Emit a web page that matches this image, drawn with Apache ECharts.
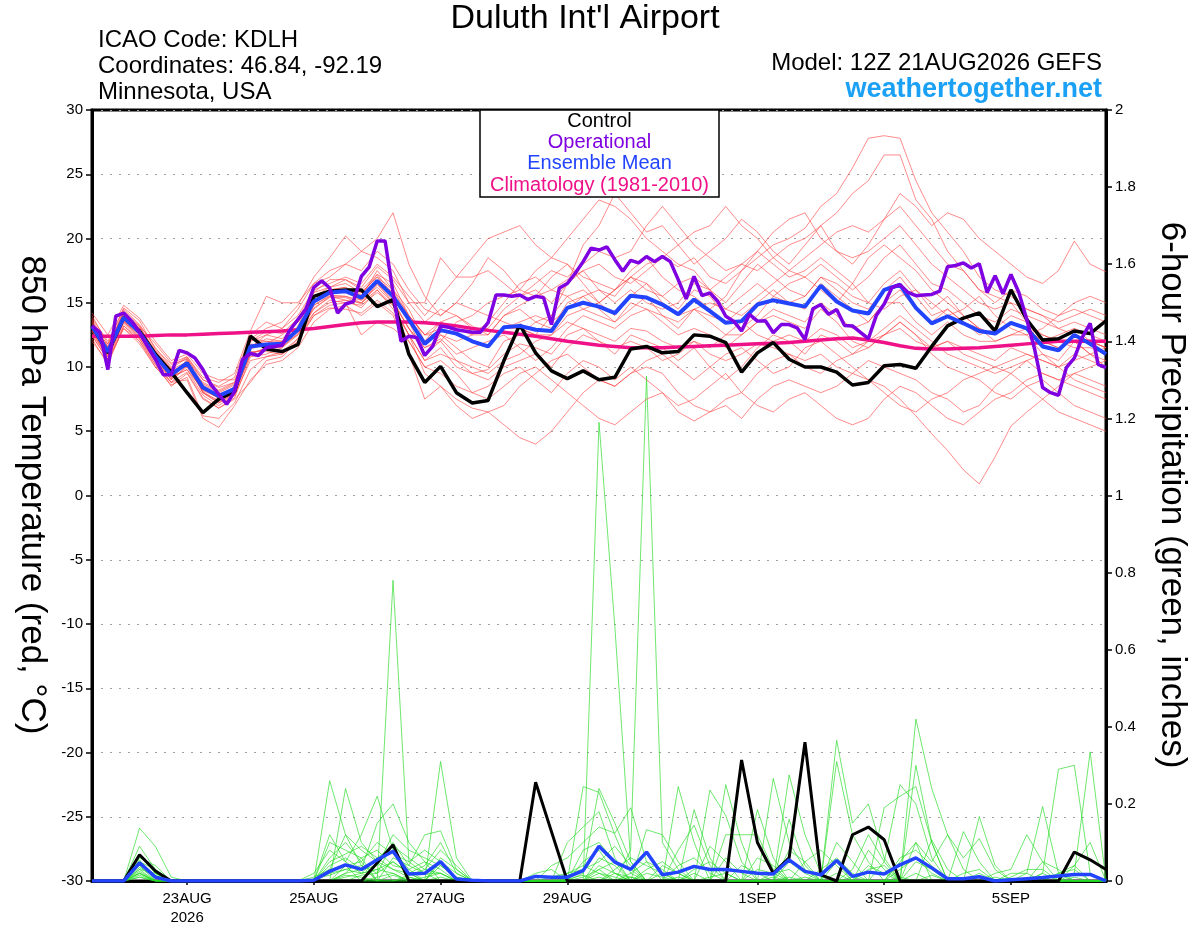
<!DOCTYPE html>
<html><head><meta charset="utf-8">
<script src="https://cdn.jsdelivr.net/npm/echarts@6/dist/echarts.min.js"></script>
<style>html,body{margin:0;padding:0;background:#fff}#c{width:1200px;height:927px}</style>
</head><body><div id="c"></div>
<script>
// ---- axis ticks ----
const tickHours = [36,84,132,180,252,300,348];
const tickLabels = ['23AUG\n2026','25AUG','27AUG','29AUG','1SEP','3SEP','5SEP'];

// ---- 850 hPa temperature (6-hourly, from 12Z 21AUG) ----
const control = [13.2,11.1,13.85,12.8,11.0,9.6,8.0,6.45,7.5,8.1,12.4,11.4,11.2,
11.75,15.5,15.9,16.0,16.0,14.7,15.25,11.0,8.8,10.05,8.0,7.2,7.4,
10.5,13.3,11.1,9.7,9.1,9.7,9.0,9.2,11.4,11.6,11.1,11.2,12.5,
12.4,11.9,9.6,11.1,11.9,10.6,10.0,10.0,9.6,8.6,8.8,10.1,10.2,
9.9,11.6,13.2,13.8,14.2,12.8,16.0,13.7,12.1,12.2,12.8,12.6,13.6];
const ensembleMean = [13.2,11.2,13.85,12.7,10.85,9.4,10.3,8.4,7.75,8.3,11.6,11.75,11.8,
12.9,15.1,15.8,15.9,15.4,16.7,15.5,13.7,11.8,12.87,12.6,12.0,11.6,
13.1,13.2,12.9,12.8,14.6,15.0,14.7,14.2,15.55,15.4,14.86,14.1,15.25,
14.35,13.44,13.57,14.86,15.2,14.94,14.7,16.33,15.1,14.4,14.16,16.0,16.4,
14.6,13.4,13.95,13.4,12.8,12.6,13.44,13.0,11.6,11.3,12.5,11.8,11.0];
const climatology = [12.4,12.4,12.4,12.4,12.45,12.5,12.5,12.55,12.6,12.65,12.7,12.75,12.8,
12.9,13.0,13.15,13.3,13.45,13.5,13.5,13.5,13.45,13.35,13.2,13.0,12.85,
12.7,12.55,12.4,12.2,12.0,11.85,11.7,11.6,11.5,11.5,11.5,11.55,11.6,
11.65,11.7,11.75,11.8,11.85,11.9,12.0,12.1,12.2,12.25,12.1,11.9,11.65,
11.45,11.4,11.4,11.45,11.5,11.6,11.7,11.8,11.9,12.0,12.0,12.0,12.0];
// operational is 3-hourly
const operational = [13.2,12.7,9.8,13.95,14.2,13.57,12.7,11.6,10.6,9.4,
9.4,11.3,11.1,10.7,9.8,8.65,7.87,7.1,8.1,10.6,
11.05,10.9,11.5,11.6,11.7,12.9,13.7,14.5,16.2,16.7,
16.15,14.2,14.9,15.1,17.05,17.8,19.8,19.8,15.8,12.0,
12.4,12.3,10.9,11.6,13.2,13.1,12.9,12.8,12.7,12.7,
13.45,15.6,15.6,15.5,15.6,15.25,15.5,15.4,13.3,16.15,
16.5,17.3,18.2,19.25,19.1,19.35,18.35,17.45,18.3,18.1,
18.6,18.2,18.6,18.2,16.8,15.3,17.05,15.55,15.77,15.1,
13.95,13.57,12.8,14.1,13.57,13.6,12.66,13.3,13.3,13.05,
12.14,14.53,14.86,14.1,14.47,13.23,13.2,12.7,12.2,14.0,
14.9,16.2,16.4,15.8,15.55,15.6,15.65,15.9,17.8,17.9,
18.1,17.7,18.04,15.8,17.1,15.7,17.2,15.8,13.7,11.36,
8.4,8.0,7.8,9.95,10.7,12.3,13.4,10.2,9.95];

// ensemble members, temperature
const t01 = [13.5,11.5,14.2,13.0,11.2,9.8,10.0,8.8,8.2,8.8,12.0,12.5,12.2, 13.5,15.5,16.2,16.8,16.0,17.2,16.5,14.0,12.5,13.5,14.0,13.2,12.5, 14.0,14.8,15.5,16.0,16.8,17.5,18.0,17.0,16.5,17.5,18.5,17.8,18.5, 17.0,16.5,17.5,18.5,19.5,20.0,20.8,22.5,23.5,25.5,27.8,28.0,27.8, 24.5,22.0,20.5,19.0,17.0,16.0,15.5,14.5,14.0,13.0,12.5,12.0,11.5];
const t02 = [12.8,10.8,13.5,12.5,10.5,9.0,10.5,8.0,7.2,8.0,11.0,11.5,11.8, 12.5,14.5,15.5,15.5,15.0,16.5,15.0,13.0,11.5,12.0,13.5,14.0,15.0, 15.5,16.0,17.5,18.5,18.0,17.0,16.5,16.0,17.0,16.0,15.5,16.5,17.0, 16.0,17.0,18.0,17.5,18.5,19.5,20.0,21.0,22.0,23.5,24.5,26.5,26.5, 23.0,21.5,19.0,17.5,16.0,15.5,15.0,13.5,12.5,12.0,11.5,11.5,11.0];
const t03 = [13.0,11.0,13.6,12.4,10.6,9.2,9.8,7.8,7.0,7.8,11.2,11.2,11.0, 12.0,14.8,15.5,15.2,15.0,16.0,14.8,12.5,10.5,11.5,10.0,9.5,9.8, 11.0,11.8,11.5,11.0,12.5,13.0,12.5,12.0,13.0,12.8,12.0,11.5,12.0, 11.0,10.5,11.0,11.8,11.5,11.0,10.5,11.0,10.0,9.5,9.0,8.5,7.5, 6.2,4.8,3.5,2.0,0.9,3.0,5.4,6.5,7.5,8.5,9.5,10.0,10.5];
const t04 = [12.5,10.5,13.0,12.0,10.0,8.8,9.0,6.0,5.3,7.0,9.0,10.2,10.5, 11.5,13.5,14.5,14.8,14.0,15.0,14.0,11.0,7.5,8.5,7.5,6.8,6.5, 5.5,4.5,4.0,5.0,6.5,8.0,9.0,8.5,9.5,10.0,9.5,8.0,7.0, 6.5,7.5,8.0,9.5,10.5,11.0,10.0,9.5,10.5,11.0,12.0,12.5,13.0, 12.0,11.5,12.0,11.0,10.5,10.0,9.5,8.5,7.5,6.5,6.0,5.5,5.0];
const t05 = [13.8,12.0,14.5,13.3,11.5,10.0,10.8,9.0,8.5,9.2,12.5,13.5,13.0, 14.0,16.0,16.5,17.0,16.5,18.0,17.0,15.5,14.0,15.5,17.0,18.5,20.0, 20.5,21.0,19.5,18.5,20.0,21.5,23.0,22.5,21.5,20.0,19.0,18.0,17.5, 16.0,15.0,16.5,18.0,17.0,16.0,15.5,17.0,16.0,15.0,14.5,16.0,17.0, 15.5,14.0,14.5,13.5,13.0,12.5,13.5,13.0,12.0,11.5,12.0,11.0,10.5];
const t06 = [13.0,11.8,14.0,13.2,11.8,10.3,10.8,9.2,8.8,9.5,12.8,15.5,15.0, 15.0,16.5,17.5,18.0,17.5,19.0,18.0,16.0,14.5,14.0,15.0,14.5,14.0, 13.5,13.0,12.5,14.0,16.5,19.5,21.0,23.5,22.0,20.5,21.0,19.5,18.0, 19.0,20.0,21.5,20.5,19.0,18.0,19.5,21.0,19.0,18.0,19.5,21.5,22.5, 21.0,19.5,18.0,17.5,16.0,15.0,16.0,15.5,14.5,14.0,15.0,15.5,15.0];
const t07 = [14.2,12.5,14.8,13.8,12.0,10.5,11.0,9.5,9.0,9.0,11.5,12.5,13.0, 14.5,16.5,17.0,18.0,19.0,20.0,22.0,18.0,15.5,14.0,15.0,16.5,18.5, 17.5,16.0,15.5,17.0,18.0,16.5,15.0,16.0,17.5,18.5,17.0,16.0,15.5, 14.5,15.5,17.5,19.0,18.0,17.0,17.5,18.5,17.5,16.5,15.0,14.5,15.5, 16.0,15.0,14.0,14.5,15.5,14.0,13.0,12.5,13.0,14.0,14.5,14.0,13.5];
const t08 = [12.2,10.2,13.2,12.0,10.2,8.5,9.5,7.5,6.8,7.5,8.8,10.5,10.8, 12.0,14.0,14.8,15.0,12.5,13.5,13.0,12.0,10.0,9.5,8.5,8.0,7.5, 8.5,9.5,10.0,9.0,8.0,7.0,6.0,5.5,6.5,7.5,8.0,6.5,5.8, 6.5,7.0,6.0,7.5,8.5,9.0,8.5,8.0,8.5,9.5,10.5,10.0,9.5, 9.0,8.0,7.5,6.5,7.0,8.5,9.5,10.5,11.0,10.0,9.0,8.5,8.0];
const t09 = [13.3,11.0,14.0,12.8,10.8,9.0,10.6,8.5,7.5,8.2,11.8,11.5,12.0, 13.0,15.5,16.0,16.0,15.8,17.0,15.5,13.5,11.0,12.5,11.5,10.5,10.0, 12.0,12.5,13.5,14.0,15.5,16.0,15.0,14.0,15.5,16.5,15.5,14.5,16.0, 15.5,14.0,13.0,14.0,15.5,16.5,17.0,16.0,15.0,16.5,18.5,19.5,18.5, 17.5,16.0,15.0,14.0,13.0,12.0,12.5,13.0,12.0,11.5,12.5,12.0,11.5];
const t10 = [12.6,10.8,13.4,12.2,10.4,8.8,9.6,7.6,6.8,7.6,10.8,11.0,11.5, 12.5,14.2,15.0,15.2,14.6,16.0,14.5,12.5,10.5,11.0,10.5,9.5,9.0, 10.0,10.5,11.0,10.0,11.5,12.5,12.0,11.0,12.5,12.0,11.5,10.5,11.5, 10.0,9.0,10.0,11.5,12.5,12.0,11.0,12.5,12.0,11.0,11.5,12.5,13.5, 12.5,11.0,10.0,9.5,9.0,8.0,7.5,8.5,9.0,8.0,7.0,6.5,6.0];
const t11 = [13.6,11.4,14.4,13.2,11.0,9.6,10.4,8.2,7.6,8.5,12.2,12.0,12.0, 13.0,15.0,16.0,16.2,15.5,17.5,16.0,14.5,12.0,13.5,13.0,12.5,12.5, 14.0,14.5,13.5,13.0,15.0,15.5,16.0,15.0,16.0,15.0,14.5,15.0,16.5, 16.0,14.5,14.0,15.0,16.0,15.0,14.5,16.5,15.5,14.5,13.5,15.0,16.0, 14.5,13.5,14.5,13.5,12.5,13.0,14.0,13.5,12.0,12.5,13.0,12.0,11.5];
const t12 = [13.0,11.6,13.8,12.6,11.0,9.5,10.2,8.6,8.0,8.6,11.4,11.8,12.5, 13.5,15.2,16.0,15.8,15.2,16.8,15.8,14.0,12.5,13.0,12.5,12.0,11.5, 13.0,13.5,14.0,13.5,14.5,15.5,14.5,13.5,15.0,14.5,14.0,13.5,14.5, 14.0,13.5,14.5,15.5,16.5,17.5,18.5,19.5,20.5,21.0,20.5,21.5,23.5, 22.5,21.0,22.0,21.5,20.0,19.0,18.0,17.0,16.5,17.5,19.8,18.0,17.4];
const t13 = [12.4,10.6,13.6,12.6,10.8,9.2,9.8,8.2,7.6,8.0,11.0,11.5,11.5, 12.8,14.8,15.6,15.5,15.2,16.2,15.0,13.0,11.5,12.2,11.0,11.5,12.0, 12.5,11.5,10.5,11.5,13.0,14.0,13.5,13.0,14.0,14.5,13.5,12.5,13.0, 12.5,11.5,12.5,13.5,14.0,13.5,13.0,14.5,13.5,12.0,11.5,12.5,13.5, 12.5,11.5,12.0,11.5,11.0,10.5,11.5,11.0,10.5,10.0,11.0,10.5,10.0];
const t14 = [14.0,11.8,14.6,13.6,11.4,10.2,10.6,9.0,8.4,8.8,12.2,13.0,13.5, 14.8,17.0,18.5,20.2,19.0,18.5,17.5,15.0,15.0,18.5,17.0,17.0,17.5, 16.5,15.5,16.5,17.5,17.0,18.0,19.0,18.5,19.0,21.0,22.5,21.0,19.5, 18.5,17.5,18.0,19.0,20.5,21.5,22.0,20.0,19.0,18.5,19.0,20.0,21.0, 19.5,18.0,17.0,16.0,15.0,14.5,15.0,14.5,14.0,13.5,14.0,14.5,14.0];
const t15 = [12.0,10.4,13.0,11.8,10.0,8.6,9.2,6.2,6.0,7.2,9.8,10.8,11.0, 12.2,14.0,14.6,14.5,14.2,15.2,14.2,12.0,10.0,10.5,9.5,8.0,8.5, 9.5,10.0,9.0,8.0,9.5,10.5,10.0,9.0,10.0,9.0,8.0,7.0,7.5, 8.5,9.5,8.0,7.0,6.5,7.5,8.0,7.0,6.0,5.5,6.0,7.5,8.5, 8.0,7.0,6.0,5.5,6.5,7.5,8.0,9.0,9.5,9.0,8.5,8.0,7.5];
const t16 = [13.4,11.2,13.8,13.0,11.2,9.8,10.4,8.0,7.4,8.0,11.5,12.2,12.0, 13.2,15.8,16.2,16.5,15.8,17.0,16.0,14.0,12.5,12.5,12.0,12.5,13.5, 15.0,16.5,17.0,16.0,15.5,14.5,15.0,16.0,17.0,16.5,15.0,14.0,14.5, 15.0,14.5,15.5,16.5,15.5,15.0,15.5,17.0,16.5,15.5,15.0,16.5,17.5, 16.0,14.5,15.5,14.0,13.0,12.5,13.5,13.0,12.5,12.0,13.0,12.5,12.0];
const t17 = [12.8,10.6,13.2,12.2,10.2,8.8,10.2,8.0,7.2,7.8,10.5,10.8,11.2, 12.2,14.2,15.2,15.0,14.8,15.8,14.8,12.5,9.5,8.5,7.0,6.0,6.5, 7.0,8.5,9.5,10.5,11.0,10.0,9.0,8.5,9.5,10.5,11.0,10.0,9.0, 10.0,11.0,11.5,10.5,9.5,10.0,11.5,12.0,11.0,10.0,9.0,8.0,7.0, 6.5,7.5,8.0,9.0,9.5,10.0,10.5,11.0,10.5,10.0,10.5,11.0,11.5];
const t18 = [13.1,11.3,14.1,12.9,10.9,9.3,10.3,8.3,7.7,8.3,11.7,12.0,11.8, 13.0,15.2,16.0,16.2,15.6,17.2,15.6,13.5,12.0,13.0,12.5,12.0,11.5, 13.0,13.0,12.5,12.5,14.0,14.5,14.0,13.5,14.5,15.5,14.0,13.0,14.5, 13.5,12.5,12.5,13.5,14.5,14.0,13.5,15.0,14.0,13.0,13.5,15.0,15.0, 13.5,12.5,13.5,12.5,12.0,12.0,12.5,12.5,11.0,10.5,12.0,11.0,10.0];
const t19 = [13.7,11.6,14.3,13.1,11.3,9.9,10.7,8.7,8.1,8.7,12.0,12.8,12.6, 13.8,15.8,16.8,16.8,16.2,17.8,16.8,15.0,13.5,14.5,14.0,13.0,13.0, 14.5,15.5,16.0,15.0,16.5,17.5,16.0,15.5,17.0,18.0,18.5,19.5,20.5, 21.0,22.5,21.0,20.0,18.5,17.5,17.0,18.0,17.0,16.0,17.0,18.5,19.5, 18.0,16.5,16.0,15.0,14.0,13.5,14.5,14.0,13.5,13.0,13.5,13.0,12.5];
const t20 = [12.9,10.9,13.5,12.3,10.5,9.1,10.0,8.1,7.3,7.9,11.1,11.4,11.6, 12.6,14.6,15.4,15.4,14.9,16.4,15.2,13.0,11.0,12.0,10.5,10.0,9.5, 10.5,11.0,12.0,12.5,13.5,13.0,12.0,11.5,12.0,11.5,10.5,11.0,12.0, 11.5,12.5,13.5,12.5,12.0,12.5,12.0,13.0,12.5,11.5,12.0,13.0,14.0, 13.0,12.0,11.0,10.5,10.0,9.5,10.0,10.5,9.5,9.0,9.5,9.0,8.5];
const tempMembers = [t01,t02,t03,t04,t05,t06,t07,t08,t09,t10,t11,t12,t13,t14,t15,t16,t17,t18,t19,t20];

// ---- 6-hour precipitation (inches) ----
const controlPrecip = [0,0,0,0.068,0.026,0,0,0,0,0,0,0,0, 0,0,0,0,0,0.047,0.094,0,0,0,0,0,0, 0,0,0.256,0.128,0,0,0,0,0,0,0,0,0, 0,0,0.314,0.10,0.02,0.06,0.36,0.016,0,0.12,0.14,0.107,0, 0,0,0,0,0,0,0,0,0,0,0.075,0.055,0.03];
const meanPrecip = [0,0,0,0.047,0.01,0,0,0,0,0,0,0,0, 0,0.002,0.025,0.042,0.03,0.055,0.077,0.018,0.02,0.05,0.005,0.002,0, 0,0,0.012,0.01,0.01,0.027,0.09,0.049,0.03,0.075,0.016,0.023,0.038, 0.03,0.03,0.025,0.02,0.018,0.055,0.025,0.016,0.053,0.012,0.023,0.018,0.042, 0.06,0.034,0.006,0.006,0.011,0,0.003,0.006,0.009,0.013,0.017,0.017,0];
const p01 = [0,0,0,0.137,0.09,0.01,0,0,0,0,0,0,0, 0,0,0.06,0.1,0.05,0,0.78,0.05,0.02,0,0,0,0, 0,0,0,0,0,0.02,0.24,0.15,0.05,0,0,0,0, 0,0.25,0.1,0,0,0,0,0,0.05,0,0,0,0, 0.42,0.24,0.12,0.03,0,0,0,0,0,0,0.04,0,0];
const p02 = [0,0,0,0.09,0.03,0,0,0,0,0,0,0,0, 0,0,0.26,0.12,0.04,0,0,0,0,0.05,0.02,0,0, 0,0,0,0,0,0,1.19,0.66,0.05,0,0.02,0,0, 0,0,0,0,0.266,0.1,0.03,0,0,0,0,0,0.05, 0.1,0,0,0,0,0,0,0,0.02,0,0,0,0];
const p03 = [0,0,0,0.07,0.02,0,0,0,0,0,0,0,0, 0,0,0,0.24,0.1,0.05,0,0,0,0.31,0.06,0,0, 0,0,0,0,0,0,0,0,0.08,1.31,0.1,0.03,0, 0,0,0,0,0,0.275,0.12,0.02,0,0,0,0.05,0.25, 0.2,0.06,0,0,0,0,0,0,0,0.02,0.04,0.1,0];
const p04 = [0,0,0,0.05,0.01,0,0,0,0,0,0,0,0, 0,0.02,0.08,0.05,0.12,0.22,0.08,0.03,0,0,0,0,0, 0,0,0,0,0,0.245,0.23,0.12,0.02,0,0,0,0, 0.236,0.17,0.05,0,0,0,0,0,0.365,0.15,0.2,0.06,0, 0,0,0,0,0,0.02,0.03,0.12,0.05,0,0,0,0];
const p05 = [0,0,0,0.04,0,0,0,0,0,0,0,0,0, 0,0,0.04,0.06,0.03,0.15,0.2,0.1,0.05,0,0,0,0, 0,0,0,0,0.1,0.14,0.18,0.06,0,0,0,0.245,0.1, 0,0,0,0.185,0.06,0,0,0,0.31,0.12,0.05,0,0, 0.3,0.1,0,0,0.167,0.04,0,0,0,0,0.02,0.335,0];
const p06 = [0,0,0,0.03,0.02,0,0,0,0,0,0,0,0, 0,0,0.1,0.08,0.06,0,0.06,0.04,0.12,0.13,0.03,0,0, 0,0,0,0.04,0.06,0.1,0.14,0.124,0.19,0.05,0,0,0.185, 0.06,0,0,0,0,0.08,0.05,0,0,0,0,0.19,0.22, 0.245,0.1,0,0.128,0.05,0,0,0,0.02,0.29,0.30,0.02,0];
const p07 = [0,0,0,0.025,0,0,0,0,0,0,0,0,0, 0,0.01,0.03,0.12,0.08,0.05,0.03,0.02,0.04,0.1,0.02,0,0, 0,0,0,0,0,0,0.06,0.04,0,0.133,0.12,0.05,0, 0,0.12,0.12,0.12,0.03,0,0,0,0,0,0.08,0.03,0, 0,0.107,0.03,0,0,0,0,0.02,0.193,0.02,0,0,0];
const p08 = [0,0,0,0.06,0.04,0,0,0,0,0,0,0,0, 0,0,0,0.04,0.05,0.1,0.07,0.05,0.08,0.05,0,0,0, 0,0,0.02,0.03,0,0.05,0.08,0.02,0,0,0,0.08,0.145, 0.04,0,0,0,0,0,0.05,0.08,0.04,0,0,0,0, 0.1,0.05,0.12,0.06,0.11,0.03,0,0,0,0,0,0,0];
const p09 = [0,0,0,0.02,0,0,0,0,0,0,0,0,0, 0,0,0.05,0.07,0.09,0.06,0.09,0.06,0.03,0.08,0.04,0,0, 0,0,0,0,0.02,0.03,0.05,0.09,0.04,0,0,0,0.03, 0.05,0.02,0,0,0,0.16,0.04,0,0,0.03,0.12,0.05,0, 0,0,0,0,0,0,0.01,0.03,0.03,0,0,0,0];
const p10 = [0,0,0,0.015,0,0,0,0,0,0,0,0,0, 0,0,0,0.02,0.03,0.04,0.12,0.08,0.06,0.04,0.01,0,0, 0,0,0,0,0,0,0,0.03,0.06,0.04,0.02,0,0, 0.09,0.05,0,0.06,0.04,0,0,0,0.1,0.05,0,0,0.06, 0.08,0.04,0,0,0,0.01,0,0,0,0.02,0.03,0,0];
const p11 = [0,0,0,0.035,0.01,0,0,0,0,0,0,0,0, 0,0,0.12,0.05,0.02,0.03,0.05,0.02,0,0.06,0.03,0,0, 0,0,0,0,0,0.08,0.1,0.05,0,0,0.04,0.02,0, 0,0,0.04,0.02,0,0.05,0.02,0,0,0,0.04,0.02,0, 0,0,0,0.02,0.03,0,0,0,0,0,0,0,0];
const p12 = [0,0,0,0.05,0.03,0,0,0,0,0,0,0,0, 0,0,0,0.02,0.06,0.08,0.04,0.03,0.05,0.03,0,0,0, 0,0,0,0,0,0,0.03,0.05,0.03,0,0,0.04,0.06, 0.02,0,0,0,0,0,0,0.03,0.06,0.02,0,0,0, 0.05,0.03,0,0,0,0,0,0,0.05,0.03,0,0,0];
const p13 = [0,0,0,0.02,0,0,0,0,0,0,0,0,0, 0,0,0.02,0.03,0.04,0.02,0.1,0.04,0.02,0.02,0,0,0, 0,0,0,0.01,0.02,0.04,0.02,0,0.02,0.05,0.03,0,0, 0,0.06,0.02,0,0.02,0.03,0,0,0,0,0,0,0.03, 0.06,0.02,0,0,0,0,0,0,0,0,0,0,0];
const p14 = [0,0,0,0.03,0,0,0,0,0,0,0,0,0, 0,0.005,0.015,0.03,0.02,0.06,0.03,0.01,0,0.04,0.01,0,0, 0,0,0,0,0,0,0.04,0.02,0,0.03,0.05,0.02,0, 0,0,0,0.03,0.02,0,0,0,0,0,0.03,0.04,0, 0,0,0,0,0,0,0.02,0.02,0,0,0,0,0];
const p15 = [0,0,0,0.01,0,0,0,0,0,0,0,0,0, 0,0,0,0.01,0.02,0.03,0.02,0,0.01,0.02,0,0,0, 0,0,0,0,0,0,0.02,0.01,0,0,0,0,0.02, 0,0,0,0,0,0.01,0,0,0,0,0,0,0, 0.02,0,0,0,0,0,0,0,0,0,0,0,0];
const p16 = [0,0,0,0.045,0.015,0,0,0,0,0,0,0,0, 0,0,0,0,0.015,0.02,0.05,0.02,0,0,0,0,0, 0,0,0,0,0,0.01,0.03,0,0,0.02,0.01,0,0, 0,0,0,0,0,0,0,0,0.02,0,0,0,0, 0,0,0,0,0.02,0,0,0,0,0,0,0,0];
const p17 = [0,0,0,0.055,0,0,0,0,0,0,0,0,0, 0,0,0.03,0.04,0,0,0,0.015,0.03,0.02,0,0,0, 0,0,0,0,0,0,0,0.02,0.01,0,0,0,0, 0.01,0.02,0,0,0,0,0,0,0,0.01,0,0,0, 0,0.015,0,0,0,0,0,0,0,0,0,0,0];
const p18 = [0,0,0,0.02,0,0,0,0,0,0,0,0,0, 0,0,0,0,0,0.01,0.02,0,0,0.01,0,0,0, 0,0,0,0,0.005,0.015,0,0,0,0,0,0.01,0, 0,0,0,0,0.01,0,0,0,0,0,0,0,0.01, 0,0,0,0,0,0,0,0,0,0,0,0,0];
const p19 = [0,0,0,0.065,0.02,0,0,0,0,0,0,0,0, 0,0,0,0.015,0.01,0,0.015,0,0,0,0,0,0, 0,0,0,0,0,0,0.01,0,0,0,0,0,0, 0,0,0,0,0,0,0.01,0,0,0,0,0,0, 0,0,0,0,0,0,0,0,0,0,0,0,0];
const p20 = [0,0,0,0.01,0,0,0,0,0,0,0,0,0, 0,0,0,0,0,0,0,0.01,0,0,0,0,0, 0,0,0,0,0,0,0,0,0.01,0,0,0,0, 0,0,0,0,0,0,0,0,0,0,0,0,0, 0,0,0,0,0,0,0,0,0,0,0.01,0,0];
const precipMembers = [p01,p02,p03,p04,p05,p06,p07,p08,p09,p10,p11,p12,p13,p14,p15,p16,p17,p18,p19,p20];

// ---- build ----
const six = a => a.map((v,i) => [i*6, v]);
const three = a => a.map((v,i) => [i*3, v]);
const FONT = 'Liberation Sans, Arial, Helvetica, sans-serif';
const C_RED = 'rgba(255,60,60,0.75)', C_GREEN = 'rgba(40,220,40,0.85)';
const C_PURPLE = '#7f00e0', C_BLUE = '#2244ff', C_PINK = '#ee1188';

const series = [];
precipMembers.forEach(p => series.push({type:'line', yAxisIndex:1, data:six(p), symbol:'none', silent:true, z:1,
  lineStyle:{color:C_GREEN, width:0.8}}));
tempMembers.forEach(t => series.push({type:'line', yAxisIndex:0, data:six(t), symbol:'none', silent:true, z:2,
  lineStyle:{color:C_RED, width:0.8}}));
series.push({type:'line', yAxisIndex:1, data:six(controlPrecip), symbol:'none', z:5, lineStyle:{color:'#000', width:3}});
series.push({type:'line', yAxisIndex:1, data:six(meanPrecip), symbol:'none', z:6, lineStyle:{color:C_BLUE, width:3.5}});
series.push({type:'line', yAxisIndex:0, data:six(climatology), symbol:'none', z:5, lineStyle:{color:C_PINK, width:3.5}});
series.push({type:'line', yAxisIndex:0, data:six(control), symbol:'none', z:6, lineStyle:{color:'#000', width:3.5}});
series.push({type:'line', yAxisIndex:0, data:six(ensembleMean), symbol:'none', z:7, lineStyle:{color:C_BLUE, width:4}});
series.push({type:'line', yAxisIndex:0, data:three(operational), symbol:'none', z:8, lineStyle:{color:C_PURPLE, width:3.5}});

const txt = (text, x, y, size, fill, align, extra) => Object.assign({type:'text', x, y, z:100,
  style:{text, font: size + 'px ' + FONT, fill, align, verticalAlign:'middle'}}, extra || {});

const chart = echarts.init(document.getElementById('c'), null, {renderer:'canvas'});
chart.setOption({
  animation:false,
  backgroundColor:'#fff',
  grid:{left:92, top:110, width:1014, height:773, show:true, borderColor:'#000', borderWidth:3, backgroundColor:'transparent'},
  xAxis:{type:'value', min:0, max:384,
    axisLine:{show:true, onZero:false, lineStyle:{color:'#000', width:3}},
    axisTick:{show:true, customValues:tickHours, length:4, lineStyle:{color:'#000', width:1.5}},
    axisLabel:{customValues:tickHours, formatter: v => tickLabels[tickHours.indexOf(v)] || '',
      color:'#000', fontSize:15, fontFamily:FONT, margin:8, lineHeight:19},
    splitLine:{show:false}},
  yAxis:[
    {type:'value', min:-30, max:30, interval:5, position:'left',
      axisLine:{show:true, onZero:false, lineStyle:{color:'#000', width:3}},
      axisTick:{show:true, length:6, lineStyle:{color:'#000', width:1.5}},
      axisLabel:{color:'#000', fontSize:15, fontFamily:FONT, margin:9},
      splitLine:{show:true, lineStyle:{color:'#a0a0a0', width:1, type:[2,7]}}},
    {type:'value', min:0, max:2, interval:0.2, position:'right',
      axisLine:{show:true, onZero:false, lineStyle:{color:'#000', width:3}},
      axisTick:{show:true, length:6, lineStyle:{color:'#000', width:1.5}},
      axisLabel:{color:'#000', fontSize:15, fontFamily:FONT, margin:9, formatter: v => String(+v.toFixed(1))},
      splitLine:{show:false}}
  ],
  series,
  graphic:[
    txt("Duluth Int'l Airport", 585, 19, 34, '#000', 'center'),
    txt('ICAO Code: KDLH', 98, 40, 24, '#000', 'left'),
    txt('Coordinates: 46.84, -92.19', 98, 66, 24, '#000', 'left'),
    txt('Minnesota, USA', 98, 92, 24, '#000', 'left'),
    txt('Model: 12Z 21AUG2026 GEFS', 1102, 63, 24, '#000', 'right'),
    {type:'text', x:1102, y:90, z:100, style:{text:'weathertogether.net', font:'bold 27px ' + FONT, fill:'#1aa0f5', align:'right', verticalAlign:'middle'}},
    txt('850 hPa Temperature (red, °C)', 32, 495, 35, '#000', 'center', {rotation:-Math.PI/2}),
    txt('6-hour Precipitation (green, inches)', 1172, 495, 35, '#000', 'center', {rotation:-Math.PI/2}),
    {type:'rect', z:99, shape:{x:480, y:110, width:239, height:87}, style:{fill:'#fff', stroke:'#000', lineWidth:1.5}},
    txt('Control', 599.5, 121, 20, '#000', 'center'),
    txt('Operational', 599.5, 142, 20, C_PURPLE, 'center'),
    txt('Ensemble Mean', 599.5, 163, 20, C_BLUE, 'center'),
    txt('Climatology (1981-2010)', 599.5, 185, 20, C_PINK, 'center')
  ]
});
</script>
</body></html>
